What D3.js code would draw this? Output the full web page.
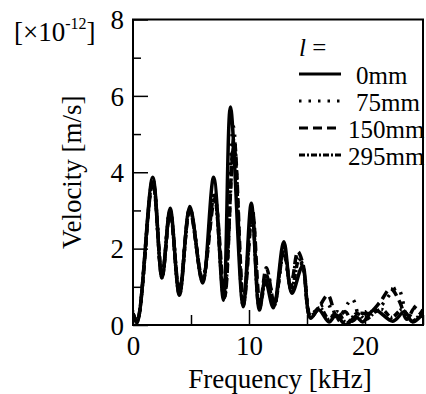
<!DOCTYPE html>
<html><head><meta charset="utf-8">
<script src="https://cdn.jsdelivr.net/npm/d3@7"></script>
<style>body{margin:0;background:#fff;}</style>
</head><body>
<svg id="c" width="426" height="394"></svg>
<script>
// ---- data (frequency in kHz, velocity in 1e-12 m/s) ----
const seriesNames = ["0mm", "75mm", "150mm", "295mm"];
const freq0 = [0, 0.35, 1.7, 2.5, 3.2, 4.0, 4.9, 6.0, 6.95, 7.8, 8.4, 9.5, 10.2, 10.9, 11.4, 12.1, 13.0, 13.7, 14.6, 15.3, 16.0, 16.9, 17.5, 18.35, 19.2, 19.8, 20.8, 22.4, 23.4, 24.1, 25];
const vel0  = [0.3, 0.05, 3.87, 1.23, 3.06, 0.78, 3.1, 1.1, 3.87, 0.65, 5.71, 0.48, 3.19, 0.39, 1.18, 0.45, 2.18, 0.83, 1.53, 0.18, 0.4, 0.08, 0.26, 0.0, 0.22, 0.08, 0.4, 0.1, 0.35, 0.08, 0.3];
const freq75 = [0, 0.35, 1.7, 2.5, 3.2, 4.0, 4.9, 6.0, 7.0, 7.85, 8.65, 9.5, 10.3, 10.9, 11.6, 12.2, 13.0, 13.6, 14.2, 14.7, 15.3, 16.2, 16.8, 17.5, 18.9, 19.6, 20.3, 21.2, 22.8, 23.7, 24.4, 25];
const vel75  = [0.3, 0.1, 3.8, 1.3, 3.0, 0.85, 3.05, 1.2, 3.5, 0.7, 5.2, 0.55, 3.0, 0.5, 1.35, 0.55, 1.9, 1.0, 1.8, 1.5, 0.3, 0.5, 0.55, 0.1, 0.68, 0.15, 0.35, 0.45, 0.97, 0.2, 0.5, 0.4];
const freq150 = [0, 0.35, 1.7, 2.5, 3.2, 4.0, 4.9, 6.0, 7.05, 7.9, 8.7, 9.55, 10.3, 10.95, 11.5, 12.2, 13.0, 13.6, 14.2, 14.65, 15.3, 16.0, 16.8, 17.6, 18.3, 18.9, 19.6, 20.3, 21.3, 22.2, 23.0, 23.6, 24.3, 25];
const vel150  = [0.3, 0.1, 3.75, 1.3, 2.95, 0.9, 3.0, 1.2, 3.3, 0.75, 4.9, 0.6, 2.95, 0.55, 1.5, 0.55, 1.95, 1.0, 1.92, 1.6, 0.2, 0.45, 0.78, 0.2, 0.35, 0.1, 0.3, 0.3, 0.6, 0.95, 0.6, 0.15, 0.45, 0.2];
const freq295 = [0, 0.35, 1.7, 2.5, 3.2, 4.0, 4.9, 6.0, 7.0, 7.85, 8.7, 9.5, 10.25, 10.9, 11.5, 12.15, 13.0, 13.65, 14.3, 14.7, 15.3, 16.1, 16.9, 17.6, 18.4, 19.3, 20.1, 20.9, 21.5, 22.3, 23.2, 24.1, 25];
const vel295  = [0.3, 0.1, 3.8, 1.25, 3.0, 0.8, 3.05, 1.15, 3.4, 0.7, 4.7, 0.5, 3.0, 0.45, 1.3, 0.5, 2.0, 0.9, 1.7, 1.45, 0.25, 0.45, 0.15, 0.35, 0.05, 0.3, 0.15, 0.35, 0.4, 0.2, 0.4, 0.1, 0.4];
const xTicks = [0, 10, 20];
const xMinor = [5, 15, 25];
const yTicks = [0, 2, 4, 6, 8];
const yMinor = [1, 3, 5, 7];

const allSeries = [
  {name: seriesNames[0], f: freq0, v: vel0, dash: null},
  {name: seriesNames[1], f: freq75, v: vel75, dash: "2.5,7"},
  {name: seriesNames[2], f: freq150, v: vel150, dash: "9,5"},
  {name: seriesNames[3], f: freq295, v: vel295, dash: "6,2,2,2"}
];

const FONT = "Liberation Serif";
const svg = d3.select("#c");
const L = 133, R = 423, T = 19.5, B = 325;
const x = d3.scaleLinear().domain([0, 25]).range([L, R]);
const y = d3.scaleLinear().domain([0, 8]).range([B, T]);

const plot = svg.append("g");
plot.append("clipPath").attr("id","clip").append("rect")
  .attr("x", L).attr("y", T).attr("width", R-L).attr("height", B-T);

const line = d3.line().x(d => x(d[0])).y(d => y(d[1])).curve(d3.curveCatmullRom.alpha(0.5));
allSeries.forEach(s => {
  const pts = s.f.map((f,i) => [f, s.v[i]]);
  plot.append("path").attr("d", line(pts))
    .attr("fill","none").attr("stroke","#000").attr("stroke-width",3.5)
    .attr("stroke-linejoin","round")
    .attr("stroke-dasharray", s.dash)
    .attr("clip-path","url(#clip)");
});

// frame
svg.append("rect").attr("x",L).attr("y",T).attr("width",R-L).attr("height",B-T)
  .attr("fill","none").attr("stroke","#000").attr("stroke-width",2);

// axes with inward ticks
const fs = 27;
const xAx = svg.append("g").attr("transform",`translate(0,${B})`)
  .call(d3.axisBottom(x).tickValues(xTicks).tickSize(-15).tickFormat(d3.format("d")));
const xAxm = svg.append("g").attr("transform",`translate(0,${B})`)
  .call(d3.axisBottom(x).tickValues(xMinor).tickSize(-10).tickFormat(""));
const yAx = svg.append("g").attr("transform",`translate(${L},0)`)
  .call(d3.axisLeft(y).tickValues(yTicks).tickSize(-15).tickFormat(d3.format("d")));
const yAxm = svg.append("g").attr("transform",`translate(${L},0)`)
  .call(d3.axisLeft(y).tickValues(yMinor).tickSize(-8).tickFormat(""));
[xAx,xAxm,yAx,yAxm].forEach(g => {
  g.select(".domain").remove();
  g.selectAll(".tick line").attr("stroke","#000").attr("stroke-width",1.5);
  g.selectAll("text").style("font-size", fs+"px").attr("fill","#000");
});
xAx.selectAll("text").attr("dy", "0.71em").attr("y", 11);
yAx.selectAll("text").attr("x", -9).attr("dy","0.34em");

// axis labels
svg.append("text").attr("x", 280).attr("y", 388).attr("text-anchor","middle")
  .style("font-size", fs+"px").text("Frequency [kHz]");
svg.append("text").attr("transform", `translate(81,${(T+B)/2}) rotate(-90)`).attr("text-anchor","middle")
  .style("font-size", fs+"px").text("Velocity [m/s]");
const unit = svg.append("text").attr("x", 14).attr("y", 41).style("font-size", fs+"px");
unit.append("tspan").text("[×10");
unit.append("tspan").attr("dy", -12).style("font-size","16px").text("-12");
unit.append("tspan").attr("dy", 12).text("]");

// legend
const lfs = 25;
const lt = svg.append("text").attr("x", 299).attr("y", 56).style("font-size", lfs+"px");
lt.append("tspan").style("font-style","italic").text("l");
lt.append("tspan").text(" =");
allSeries.forEach((s,i) => {
  const ly = 74 + i*27;
  svg.append("line").attr("x1", 299).attr("x2", 341).attr("y1", ly).attr("y2", ly)
    .attr("stroke","#000").attr("stroke-width",3).attr("stroke-dasharray", s.dash);
  svg.append("text").attr("x", s.name.length < 5 ? 356 : 348).attr("y", ly + 10)
    .style("font-size", lfs+"px").text(s.name);
});

// apply serif font to every text
svg.selectAll("text").style("font-family", FONT).attr("fill", "#000");
</script>
</body></html>
